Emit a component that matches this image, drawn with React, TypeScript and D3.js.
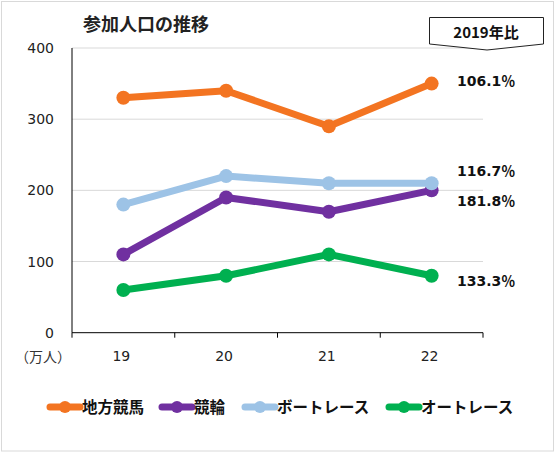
import React from 'react';
import * as d3 from 'd3';

const years = ['19', '20', '21', '22'];
const seriesNames = ['地方競馬', '競輪', 'ボートレース', 'オートレース'];
const chihoKeiba = [330, 340, 290, 350];
const keirin = [110, 190, 170, 200];
const boatRace = [180, 220, 210, 210];
const autoRace = [60, 80, 110, 80];
const ratioLabels = ['106.1％', '181.8％', '116.7％', '133.3％'];
const yTicks = [0, 100, 200, 300, 400];
const colors = ['#F37421', '#7030A0', '#9DC3E6', '#00B050'];

const W = 560;
const H = 453;
const margin = { left: 72, right: 77, top: 48, bottom: 120 };
const numFont = '"DejaVu Sans", "Noto Sans CJK JP", sans-serif';
const jpFont = '"Noto Sans CJK JP", sans-serif';

const App: React.FC = () => {
  const x = d3.scaleBand().domain(years).range([margin.left, W - margin.right]);
  const y = d3.scaleLinear().domain([0, 400]).range([H - margin.bottom - 0.3, margin.top]);
  const all = [chihoKeiba, keirin, boatRace, autoRace];
  const line = d3.line<number>()
    .x((_, i) => x(years[i])! + x.bandwidth() / 2)
    .y(d => y(d));
  // nudge the ratio labels so that they do not collide
  const labelOffsets = [-3, 11, -12, 5];
  const legendX = [50, 162, 245, 389];

  return (
    <svg width={W} height={H} style={{ position: 'absolute', left: 0, top: 0, background: '#fff' }}>
      <rect x={1.5} y={1.5} width={552} height={449.5} fill="#fff" stroke="#d9d9d9" />
      <text x={83} y={31} fontFamily={jpFont} fontWeight="bold" fontSize={18} fill="#222">参加人口の推移</text>

      {yTicks.filter(t => t > 0).map(t => (
        <line key={t} x1={margin.left} x2={W - margin.right} y1={y(t)} y2={y(t)} stroke="#d9d9d9" />
      ))}
      {yTicks.map(t => (
        <text key={t} x={54} y={y(t) + 5} textAnchor="end" fontFamily={numFont} fontSize={14} fill="#222">{t}</text>
      ))}
      <line x1={margin.left} x2={margin.left} y1={margin.top} y2={y(0)} stroke="#000" />
      <line x1={margin.left} x2={W - margin.right} y1={y(0)} y2={y(0)} stroke="#000" />
      {[...years.map(yr => x(yr)!), W - margin.right].map((px, i) => (
        <line key={i} x1={px} x2={px} y1={y(0)} y2={y(0) + 5} stroke="#000" />
      ))}
      {years.map(yr => (
        <text key={yr} x={x(yr)! + x.bandwidth() / 2 - 2} y={361} textAnchor="middle" fontFamily={numFont} fontSize={14} fill="#222">{yr}</text>
      ))}
      <text x={71} y={362} textAnchor="end" fontFamily={jpFont} fontSize={14} fill="#333">（万人）</text>

      {all.map((s, k) => (
        <g key={k}>
          <path d={line(s) ?? ''} fill="none" stroke={colors[k]} strokeWidth={7} strokeLinejoin="round" />
          {s.map((v, i) => (
            <circle key={i} cx={x(years[i])! + x.bandwidth() / 2} cy={y(v)} r={7} fill={colors[k]} />
          ))}
          <text x={457} y={y(s[3]) + 5 + labelOffsets[k]} fontFamily={numFont} fontWeight="bold" fontSize={14} fill="#111">
            {ratioLabels[k]}
          </text>
        </g>
      ))}

      <path d="M429.5,17.5 H543.5 V44 L487,50 L429.5,44 Z" fill="#fff" stroke="#222" />
      <text x={486} y={38} textAnchor="middle" fontFamily={jpFont} fontWeight="bold" fontSize={15} fill="#111">2019年比</text>

      {seriesNames.map((n, k) => (
        <g key={n}>
          <line x1={legendX[k]} x2={legendX[k] + 30} y1={407} y2={407} stroke={colors[k]} strokeWidth={7} strokeLinecap="round" />
          <circle cx={legendX[k] + 15} cy={407} r={6} fill={colors[k]} />
          <text x={legendX[k] + 32} y={412.5} fontFamily={jpFont} fontWeight="bold" fontSize={15.5} fill="#111">{n}</text>
        </g>
      ))}
    </svg>
  );
};

export default App;
